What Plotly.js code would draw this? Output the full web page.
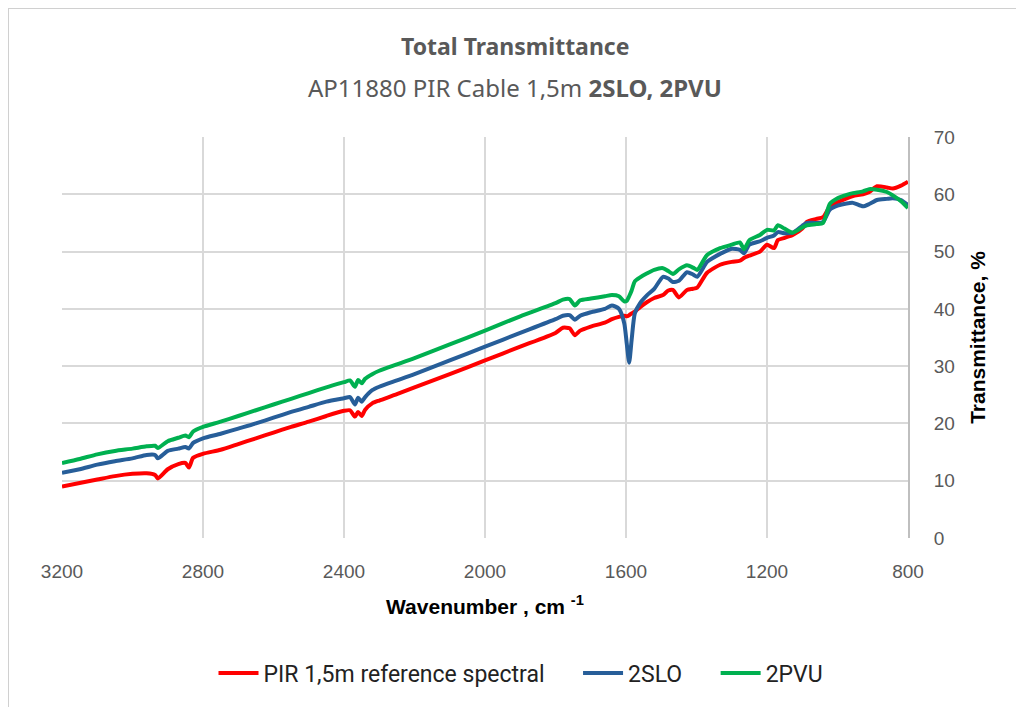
<!DOCTYPE html>
<html>
<head>
<meta charset="utf-8">
<script src="https://cdn.plot.ly/plotly-3.0.1.min.js"></script>
<style>
  html, body { margin: 0; padding: 0; background: #ffffff; }
  #frame { position: absolute; left: 8px; top: 8px; width: 1100px; height: 760px; border-left: 1px solid #d0d0d0; border-top: 1px solid #d0d0d0; }
  #chart { position: absolute; left: 0; top: 0; width: 1016px; height: 707px; }
</style>
</head>
<body>
<div id="frame"></div>
<div id="chart"></div>
<script>
const wavenumber = [3200,3150,3100,3050,3000,2960,2936,2928,2900,2870,2850,2840,2828,2800,2750,2700,2650,2600,2550,2500,2450,2400,2383,2369,2360,2350,2340,2320,2300,2250,2200,2100,2000,1900,1800,1779,1760,1745,1730,1700,1660,1640,1620,1605,1598,1591,1584,1575,1560,1540,1520,1495,1480,1467,1450,1427,1410,1398,1370,1333,1300,1277,1265,1250,1220,1200,1180,1169,1150,1127,1100,1087,1060,1041,1022,1000,974,956,928,910,888,860,843,820,800];

const pirReference = [9.0,9.6,10.2,10.8,11.2,11.3,11.0,10.4,12.0,12.9,13.1,12.3,14.0,14.7,15.4,16.4,17.4,18.4,19.4,20.3,21.3,22.2,22.3,21.2,22.0,21.3,22.4,23.5,24.0,25.1,26.3,28.6,31.0,33.4,35.8,36.7,36.6,35.4,36.2,36.9,37.6,38.2,38.6,38.8,38.7,38.9,39.2,39.5,40.3,41.2,41.9,42.4,43.2,43.3,42.0,43.3,43.5,43.7,46.3,47.7,48.2,48.4,48.9,49.3,50.0,51.2,50.6,52.0,52.4,52.9,54.0,55.2,55.7,56.0,57.8,58.6,59.3,59.7,60.0,60.4,61.4,61.2,61.0,61.5,62.2];

const slo2 = [11.4,12.0,12.8,13.4,13.9,14.5,14.5,13.9,15.2,15.6,15.9,15.6,16.6,17.4,18.2,19.1,20.0,21.0,22.0,22.9,23.8,24.4,24.6,23.3,24.5,23.8,24.6,25.8,26.4,27.5,28.6,31.0,33.4,35.8,38.2,38.8,38.9,38.1,38.8,39.4,40.0,40.6,40.0,37.5,34.0,30.6,34.6,39.2,41.0,42.4,43.5,45.6,45.3,44.7,44.9,46.4,46.0,45.6,48.2,49.6,50.5,50.3,49.7,51.2,51.8,52.4,52.8,53.4,53.2,53.3,54.5,55.0,55.0,55.2,57.3,58.0,58.4,58.5,57.9,58.3,59.0,59.2,59.3,59.0,58.1];

const pvu2 = [13.1,13.8,14.6,15.2,15.6,16.0,16.1,15.7,16.9,17.5,17.9,17.6,18.6,19.4,20.3,21.3,22.3,23.3,24.3,25.3,26.3,27.2,27.5,26.4,27.6,27.0,27.8,28.6,29.2,30.3,31.4,33.8,36.2,38.7,41.0,41.6,41.7,40.6,41.5,41.8,42.2,42.4,42.2,41.3,41.4,42.2,43.2,44.8,45.5,46.2,46.8,47.1,46.6,46.1,46.9,47.6,47.2,46.8,49.4,50.6,51.2,51.6,50.4,52.0,52.9,53.8,53.7,54.6,54.0,53.3,54.2,54.6,54.8,55.0,58.3,59.3,59.9,60.2,60.5,60.9,60.8,60.4,59.8,58.8,57.6];

const seriesNames = ["PIR 1,5m reference spectral", "2SLO", "2PVU"];
const xTicks = [3200, 2800, 2400, 2000, 1600, 1200, 800];
const yTicks = [0, 10, 20, 30, 40, 50, 60, 70];

const colors = ["#ff0000", "#275e99", "#00b050"];
const values = [pirReference, slo2, pvu2];

const pad = "\u00a0\u00a0\u00a0\u00a0\u00a0";
const traces = values.map((v, i) => ({
  x: wavenumber,
  y: v,
  type: "scatter",
  mode: "lines",
  name: seriesNames[i] + (i < 2 ? pad : ""),
  line: { color: colors[i], width: 4, shape: "spline", smoothing: 0.6 }
}));

const layout = {
  width: 1016,
  height: 707,
  paper_bgcolor: "rgba(0,0,0,0)",
  plot_bgcolor: "#ffffff",
  margin: { l: 62, r: 108, t: 137, b: 169 },
  showlegend: true,
  legend: {
    orientation: "h",
    x: (521 - 62) / 846, xanchor: "center",
    y: -0.337, yanchor: "middle",
    font: { family: "Roboto, sans-serif", size: 23, color: "#222222" },
    itemwidth: 40,
    tracegroupgap: 0
  },
  xaxis: {
    range: [3200, 800],
    tickvals: xTicks,
    ticktext: xTicks.map(String),
    showgrid: true,
    gridcolor: "#d9d9d9",
    gridwidth: 2,
    zeroline: false,
    showline: false,
    ticks: "",
    tickfont: { family: "Liberation Sans, Arial, sans-serif", size: 19, color: "#595959" },
    ticklabelstandoff: 20,
    title: {
      text: "<b>Wavenumber , cm <sup>-1</sup></b>",
      font: { family: "Liberation Sans, Arial, sans-serif", size: 21, color: "#000000" },
      standoff: 18
    }
  },
  yaxis: {
    range: [0, 70],
    side: "right",
    tickvals: yTicks,
    showgrid: true,
    gridcolor: "#d9d9d9",
    gridwidth: 2,
    zeroline: false,
    showline: true,
    linecolor: "#bfbfbf",
    linewidth: 2,
    ticks: "",
    tickfont: { family: "Liberation Sans, Arial, sans-serif", size: 19, color: "#595959" },
    ticklabelstandoff: 20,
    title: {
      text: "<b>Transmittance, %</b>",
      font: { family: "Liberation Sans, Arial, sans-serif", size: 21, color: "#000000" },
      standoff: 16
    }
  },
  annotations: [
    {
      text: "<b>Total Transmittance</b>",
      xref: "paper", yref: "paper",
      x: (515 - 62) / 846, y: (538 - 46) / 401, xanchor: "center", yanchor: "middle",
      showarrow: false,
      font: { family: "Noto Sans, sans-serif", size: 23, color: "#595959" }
    },
    {
      text: "AP11880 PIR Cable 1,5m <b>2SLO, 2PVU</b>",
      xref: "paper", yref: "paper",
      x: (515 - 62) / 846, y: (538 - 87) / 401, xanchor: "center", yanchor: "middle",
      showarrow: false,
      font: { family: "Noto Sans, sans-serif", size: 24, color: "#595959" }
    }
  ]
};

Plotly.newPlot("chart", traces, layout, { displayModeBar: false, staticPlot: true });
</script>
</body>
</html>
